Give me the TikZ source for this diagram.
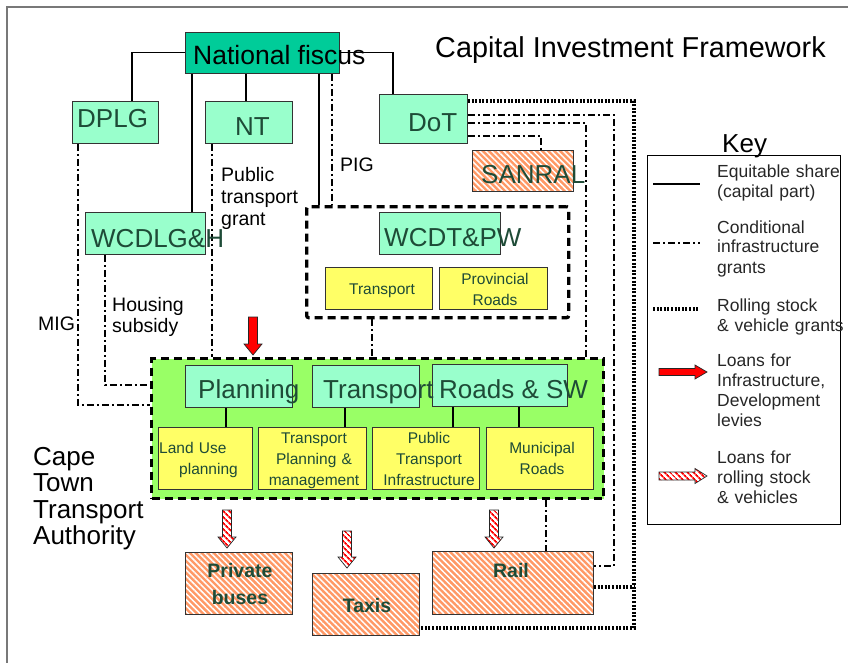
\documentclass[tikz,border=0pt]{standalone}
\usepackage{fontspec}
\setmainfont{Liberation Sans}
\usetikzlibrary{calc,patterns.meta}
\definecolor{fiscuscol}{RGB}{0,204,153}
\definecolor{mint}{RGB}{153,255,204}
\definecolor{ylw}{RGB}{255,255,102}
\definecolor{lime}{RGB}{153,255,102}
\definecolor{salmon}{RGB}{255,153,102}
\definecolor{dkgreen}{RGB}{30,75,55}
\definecolor{framecol}{RGB}{120,120,120}
\newcommand{\myfs}[2]{\fontsize{#1}{#2}\selectfont}
% down block arrow: style, x, ytop, ybottom
\newcommand{\blkdown}[4]{\draw[#1] (#2-4.5,#3) -- (#2+4.5,#3) -- (#2+4.5,#4-11) -- (#2+9,#4-11) -- (#2,#4) -- (#2-9,#4-11) -- (#2-4.5,#4-11) -- cycle;}
% right block arrow: style, xleft, xright, y, shaft half, head half
\newcommand{\blkright}[6]{\draw[#1] (#2,#4-#5) -- (#3-12,#4-#5) -- (#3-12,#4-#6) -- (#3,#4) -- (#3-12,#4+#6) -- (#3-12,#4+#5) -- (#2,#4+#5) -- cycle;}
\tikzset{
  box/.style={draw=black!80, line width=0.9pt, inner sep=0pt, anchor=north west},
  mintbox/.style={box, fill=mint},
  ylwbox/.style={box, fill=ylw},
  hatchbox/.style={box, preaction={fill=salmon}, pattern={Lines[angle=-45,distance=4.2pt,line width=1.5pt]}, pattern color=white},
  txt/.style={inner sep=0pt, anchor=base west},
  bigtxt/.style={txt, font=\myfs{26}{30}, text=dkgreen},
  smalltxt/.style={inner sep=0pt, anchor=base, align=center, text width=112pt, font=\myfs{15.5}{21}, text=dkgreen},
  boldtxt/.style={inner sep=0pt, anchor=base, align=center, text width=100pt, font=\myfs{19.5}{27}\bfseries, text=dkgreen},
  lbl/.style={inner sep=0pt, anchor=base west, align=left, text width=110pt, font=\myfs{19.5}{21.7}},
  keytxt/.style={inner sep=0pt, anchor=base west, align=left, text width=140pt, font=\myfs{17.5}{20}, text=black!85},
  sol/.style={line width=1.1pt},
  dd/.style={line width=2.7pt, dash pattern=on 7pt off 3pt on 2pt off 3pt},
  dt/.style={line width=3.2pt, dash pattern=on 2pt off 1.6pt},
  dsh/.style={draw=black, line width=3.3pt, dash pattern=on 8pt off 5pt, inner sep=0pt, anchor=north west},
  redarrow/.style={fill=red, draw=black!85, line width=0.7pt},
  hatcharrow/.style={preaction={fill=white}, pattern={Lines[angle=-45,distance=4pt,line width=1.8pt]}, pattern color=red, draw=black!85, line width=0.7pt}
}
\begin{document}
\begin{tikzpicture}[x=1pt,y=-1pt]
\useasboundingbox (0,0) rectangle (848,663);
\draw[framecol, line width=1.2pt] (7,663) -- (7,7) -- (848,7);

% ---------- boxes ----------
\node[dsh, fill=lime, minimum width=452pt, minimum height=140pt] (greenbox) at (150,357) {};
\node[dsh, rounded corners=2pt, minimum width=262pt, minimum height=111pt] (wcdtbox) at (305,205) {};

\node[box, fill=fiscuscol, minimum width=154pt, minimum height=41pt] (fiscus) at (185,32) {};
\node[mintbox, minimum width=86pt, minimum height=42pt] (dplg) at (72,101) {};
\node[mintbox, minimum width=87pt, minimum height=42pt] (nt) at (205,101) {};
\node[mintbox, minimum width=88pt, minimum height=49pt] (dot) at (379,94) {};
\node[hatchbox, minimum width=101pt, minimum height=41pt] (sanral) at (472,150) {};
\node[mintbox, minimum width=120pt, minimum height=42pt] (wcdlgh) at (85,212) {};
\node[mintbox, minimum width=121pt, minimum height=42pt] (wcdtpw) at (379,212) {};
\node[ylwbox, minimum width=107pt, minimum height=42pt] (ptransport) at (325,267) {};
\node[ylwbox, minimum width=108pt, minimum height=42pt] (provroads) at (439,267) {};

\node[mintbox, minimum width=107pt, minimum height=42pt] (planning) at (185,365) {};
\node[mintbox, minimum width=107pt, minimum height=42pt] (transport) at (312,365) {};
\node[mintbox, minimum width=135pt, minimum height=42pt] (roads) at (432,364) {};
\node[ylwbox, minimum width=94pt, minimum height=62pt] (landuse) at (158,427) {};
\node[ylwbox, minimum width=108pt, minimum height=62pt] (tpm) at (258,427) {};
\node[ylwbox, minimum width=107pt, minimum height=62pt] (pti) at (372,427) {};
\node[ylwbox, minimum width=107pt, minimum height=62pt] (munroads) at (486,427) {};

\node[hatchbox, minimum width=107pt, minimum height=62pt] (buses) at (185,552) {};
\node[hatchbox, minimum width=107pt, minimum height=62pt] (taxis) at (312,573) {};
\node[hatchbox, minimum width=161pt, minimum height=63pt] (rail) at (432,551) {};

\node[box, draw=black, line width=1pt, minimum width=193pt, minimum height=369pt] (keybox) at (647,155) {};

% ---------- solid connectors ----------
\draw[sol] (fiscus.west) -| ($(dplg.north west)+(60,0)$);
\draw[sol] (fiscus.east) -| ($(dot.north west)+(14,0)$);
\draw[sol] ($(fiscus.south west)+(7,0)$) -- ($(wcdlgh.north west)+(107,0)$);
\draw[sol] ($(fiscus.south west)+(61,0)$) -- ($(nt.north west)+(41,0)$);
\draw[sol] ($(fiscus.south west)+(134,0)$) coordinate (fx1) -- (fx1 |- wcdtbox.north);
\draw[sol] ($(planning.south west)+(41,0)$) -- ($(landuse.north west)+(68,0)$);
\draw[sol] ($(transport.south west)+(33,0)$) -- ($(tpm.north west)+(87,0)$);
\draw[sol] ($(roads.south west)+(21,0)$) -- ($(pti.north west)+(81,0)$);
\draw[sol] ($(roads.south west)+(87,0)$) -- ($(munroads.north west)+(33,0)$);

% ---------- dash-dot connectors ----------
\draw[dd] ($(fiscus.south west)+(147,0)$) coordinate (fx2) -- (fx2 |- wcdtbox.north);
\draw[dd] ($(dplg.south west)+(6,0)$) |- ($(greenbox.north west)+(0,48)$);
\draw[dd] ($(nt.south west)+(7,0)$) coordinate (ntd) -- (ntd |- greenbox.north);
\draw[dd] ($(wcdlgh.south west)+(20,0)$) |- ($(greenbox.north west)+(0,28)$);
\draw[dd] ($(wcdtbox.south west)+(67,0)$) coordinate (wd) -- (wd |- greenbox.north);
\draw[dd] ($(dot.north east)+(0,21)$) -| ($(rail.north east)+(20,15)$) -- ($(rail.north east)+(0,15)$);
\draw[dd] ($(dot.north east)+(0,29)$) -| ($(greenbox.north west)+(436,0)$);
\draw[dd] ($(dot.north east)+(0,42)$) -| ($(sanral.north west)+(69,0)$);
\draw[dd] ($(greenbox.south west)+(396,0)$) coordinate (gd) -- (gd |- rail.north);

% ---------- dotted connectors ----------
\draw[dt] ($(dot.north east)+(0,7)$) -| ($(taxis.south east)+(214,-8)$) -- ($(taxis.south east)+(0,-8)$);
\draw[dt] ($(rail.north east)+(0,36)$) -- ++(40,0);

% ---------- loan arrows ----------
\blkdown{redarrow}{253}{317}{355}
\blkdown{hatcharrow}{227}{510}{548}
\blkdown{hatcharrow}{347}{531}{568}
\blkdown{hatcharrow}{494}{510}{548}

% ---------- texts ----------
\node[txt, font=\myfs{28.8}{32}] (title) at (435,58) {Capital Investment Framework};
\node[txt, font=\myfs{26.5}{30}] (fiscus-t) at (193,65) {National fiscus};
\node[bigtxt] (dplg-t) at (77,128) {DPLG};
\node[bigtxt] (nt-t) at (235,136) {NT};
\node[bigtxt] (dot-t) at (408,132) {DoT};
\node[bigtxt] (sanral-t) at (481,183) {SANRAL};
\node[bigtxt] (wcdlgh-t) at (91,247) {WCDLG\&H};
\node[bigtxt] (wcdtpw-t) at (384,246) {WCDT\&PW};
\node[bigtxt] (planning-t) at (198,398) {Planning};
\node[bigtxt] (transport-t) at (323,398) {Transport};
\node[bigtxt] (roads-t) at (439,398) {Roads \& SW};

\node[smalltxt] (ptransport-t) at (382,294) {Transport};
\node[smalltxt] (provroads-t) at (495,284) {Provincial\\Roads};
\node[smalltxt, anchor=base west, align=left, text width=90pt] (landuse-t) at (159,453) {Land Use\\\hspace*{20pt}planning};
\node[smalltxt] (tpm-t) at (314,443) {Transport\\Planning \&\\management};
\node[smalltxt] (pti-t) at (429,443) {Public\\Transport\\Infrastructure};
\node[smalltxt] (munroads-t) at (542,453) {Municipal\\Roads};

\node[boldtxt] (buses-t) at (240,577) {Private\\buses};
\node[boldtxt] (taxis-t) at (367,612) {Taxis};
\node[boldtxt] (rail-t) at (511,577) {Rail};

\node[lbl] (mig) at (38,330) {MIG};
\node[lbl] (ptg) at (221,182) {Public\\transport\\grant};
\node[lbl] (pig) at (340,172) {PIG};
\node[lbl] (hs) at (112,311) {Housing\\subsidy};
\node[txt, align=left, text width=150pt, font=\myfs{26}{26.5}] (ctta) at (33,465) {Cape\\Town\\Transport\\Authority};

% ---------- key ----------
\node[txt, font=\myfs{26}{30}] (key-t) at (722,153) {Key};
\coordinate (k1a) at (653,184); \coordinate (k1b) at (700,184);
\draw[sol] (k1a) -- (k1b);
\coordinate (k2a) at (653,243); \coordinate (k2b) at (700,243);
\draw[dd] (k2a) -- (k2b);
\coordinate (k3a) at (653,309); \coordinate (k3b) at (699,309);
\draw[dt] (k3a) -- (k3b);
\blkright{redarrow}{659}{707}{372}{3.5}{7}
\blkright{hatcharrow}{659}{707}{476}{4}{7.5}
\node[keytxt] (k1) at (717,178) {Equitable share\\(capital part)};
\node[keytxt] (k2) at (717,233) {Conditional\\infrastructure\\grants};
\node[keytxt] (k3) at (717,311) {Rolling stock\\\& vehicle grants};
\node[keytxt] (k4) at (717,366) {Loans for\\Infrastructure,\\Development\\levies};
\node[keytxt] (k5) at (717,463) {Loans for\\rolling stock\\\& vehicles};
\end{tikzpicture}
\end{document}
